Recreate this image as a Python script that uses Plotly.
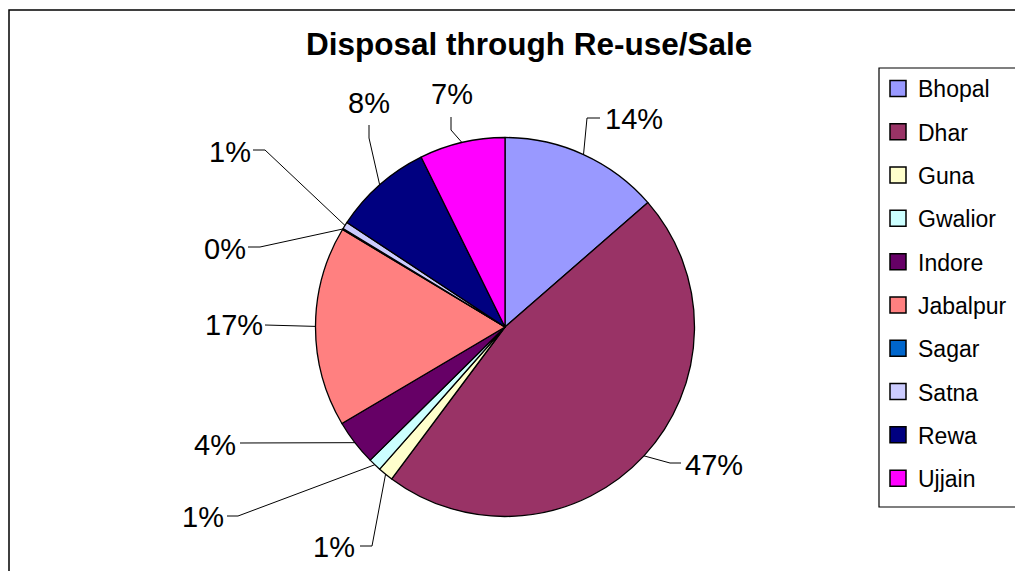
import math
import plotly.graph_objects as go

# ---- data ----
districts = ["Bhopal", "Dhar", "Guna", "Gwalior", "Indore",
             "Jabalpur", "Sagar", "Satna", "Rewa", "Ujjain"]
shares = [13.6, 46.6, 1.3, 1.1, 3.9, 17.1, 0.1, 0.6, 8.4, 7.3]
colors = ["#9999FF", "#993366", "#FFFFCC", "#CCFFFF", "#660066",
          "#FF8080", "#0066CC", "#CCCCFF", "#000080", "#FF00FF"]
title_text = "Disposal through Re-use/Sale"

# ---- layout constants (page pixels) ----
W, H = 1023, 571
OFF = 8  # page body margin: figure origin on the page
PIE_CX, PIE_CY, PIE_R = 505, 327, 189.5
FONT = "Liberation Sans, Arial, sans-serif"
# leader elbow points and label anchor per slice (page pixel coords)
leader_pts = [
    [(587, 118), (600, 118)],
    [(670, 463), (681, 463)],
    [(372, 546), (360, 546)],
    [(238, 516), (227, 516)],
    [(240, 443)],
    [(265, 325)],
    [(260, 247), (248, 247)],
    [(265, 150), (253, 150)],
    [(369, 138), (369, 125)],
    [(451, 130), (451, 117)],
]
label_pos = [  # x, y, xanchor
    (603, 119, "left"),
    (683, 465, "left"),
    (357, 547, "right"),
    (226, 517, "right"),
    (238, 445, "right"),
    (265, 325, "right"),
    (248, 249, "right"),
    (253, 152, "right"),
    (369, 103, "center"),
    (452, 94, "center"),
]

total = sum(shares)
pct_text = [f"{round(v / total * 100):.0f}%" for v in shares]

fig = go.Figure()

fig.add_trace(go.Pie(
    labels=districts, values=shares, sort=False, direction="clockwise",
    rotation=0,
    marker=dict(colors=colors, line=dict(color="black", width=1.3)),
    textinfo="none", hoverinfo="label+percent", showlegend=False,
    domain=dict(x=[(PIE_CX - OFF - PIE_R) / W, (PIE_CX - OFF + PIE_R) / W],
                y=[(H + OFF - PIE_CY - PIE_R) / H, (H + OFF - PIE_CY + PIE_R) / H]),
))

# leader lines from slice mid-angle edge points
cum = 0.0
annotations = []
for i, v in enumerate(shares):
    mid = (cum + v / 2) / total * 2 * math.pi
    cum += v
    ex = PIE_CX + PIE_R * math.sin(mid)
    ey = PIE_CY - PIE_R * math.cos(mid)
    xs = [ex] + [p[0] for p in leader_pts[i]]
    ys = [ey] + [p[1] for p in leader_pts[i]]
    fig.add_trace(go.Scatter(x=xs, y=ys, mode="lines",
                             line=dict(color="black", width=1),
                             showlegend=False, hoverinfo="skip"))
    lx, ly, anc = label_pos[i]
    annotations.append(dict(x=lx, y=ly, xref="x", yref="y", text=pct_text[i],
                            showarrow=False, xanchor=anc, yanchor="middle",
                            font=dict(family=FONT, size=29, color="black")))

# legend entries
for name, c in zip(districts, colors):
    fig.add_trace(go.Scatter(x=[None], y=[None], mode="markers", name=name,
                             legendgroup=name,
                             marker=dict(symbol="square", size=16, color=c,
                                         line=dict(color="black", width=1.5))))

annotations.append(dict(x=529, y=44, xref="x", yref="y", text=f"<b>{title_text}</b>",
                        showarrow=False, xanchor="center", yanchor="middle",
                        font=dict(family=FONT, size=31.5, color="black")))

shapes = [
    dict(type="rect", xref="x", yref="y", x0=OFF + 1, y0=10, x1=1060, y1=620,
         line=dict(color="black", width=1.5)),
    dict(type="rect", xref="x", yref="y", x0=879, y0=68, x1=1021, y1=507,
         line=dict(color="black", width=1.2)),
]

fig.update_layout(
    width=W, height=H, autosize=False,
    margin=dict(l=0, r=0, t=0, b=0, pad=0),
    paper_bgcolor="white", plot_bgcolor="white",
    xaxis=dict(range=[OFF, OFF + W], visible=False, fixedrange=True, domain=[0, 1]),
    yaxis=dict(range=[OFF + H, OFF], visible=False, fixedrange=True, domain=[0, 1]),
    showlegend=True,
    legend=dict(x=(878 - OFF) / W, y=1 - (68 - OFF - 1) / H, xanchor="left", yanchor="top",
                bgcolor="rgba(0,0,0,0)", borderwidth=0,
                font=dict(family=FONT, size=23, color="black"),
                tracegroupgap=10.4, traceorder="grouped", itemsizing="trace"),
    annotations=annotations, shapes=shapes,
)

fig.write_html("out.html")
